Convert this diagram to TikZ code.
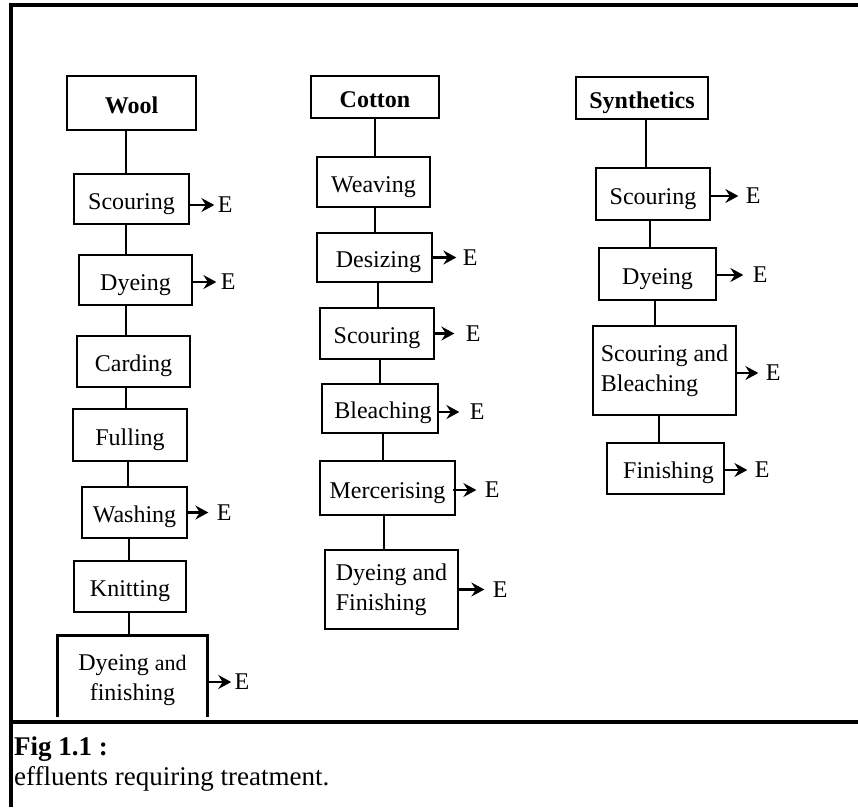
\documentclass[tikz,border=0pt]{standalone}
\usepackage{fontspec}
\setmainfont{Liberation Serif}
\usetikzlibrary{arrows.meta}
\begin{document}
\begin{tikzpicture}[x=1pt,y=-1pt,
  txt/.style={font=\fontsize{24}{30}\selectfont},
  box/.style={draw, line width=2.7pt, inner sep=0pt, txt},
  one/.style={text height=20pt, text depth=0pt},
  hbox/.style={box, one, font=\fontsize{24}{30}\selectfont\bfseries},
  openbox/.style={line width=2.7pt},
  link/.style={line width=2.3pt},
  eff/.style={line width=2.8pt, -{Stealth[length=13pt,width=14pt,inset=4.5pt]}},
  elab/.style={anchor=west, inner sep=0pt, txt},
  frame/.style={line width=3.2pt},
  captext/.style={anchor=base west, inner sep=0pt, font=\fontsize{27}{30}\selectfont}
]
\useasboundingbox (0,0) rectangle (858,807);
% frame
\coordinate (tr) at (858,5);
\coordinate (tl) at (11,5);
\coordinate (bl) at (11,807);
\coordinate (sl) at (11,722);
\coordinate (sr) at (858,722);
\draw[frame] (tr) -- (tl) -- (bl);
\draw[frame] (sl) -- (sr);

% Wool column
\node[hbox, minimum width=129pt, minimum height=54pt] (w0) at (131.5,103) {Wool};
\node[box, one, minimum width=115pt, minimum height=50pt] (w1) at (131.5,199) {Scouring};
\node[box, one, minimum width=113pt, minimum height=50pt] (w2) at (135.5,280) {Dyeing};
\node[box, one, minimum width=113pt, minimum height=51pt] (w3) at (133.5,361.5) {Carding};
\node[box, one, minimum width=114pt, minimum height=52pt] (w4) at (130,435) {Fulling};
\node[box, one, minimum width=105pt, minimum height=51pt] (w5) at (134.5,512.5) {Washing};
\node[box, one, minimum width=112pt, minimum height=51pt] (w6) at (130,586.5) {Knitting};
\node[inner sep=0pt, minimum width=149pt, minimum height=81pt] (w7) at (132.5,676.5) {};
\node[txt, inner sep=0pt, align=center, yshift=-4pt] (w7t) at (w7.center) {Dyeing {\fontsize{22}{30}\selectfont and}\\finishing};
\draw[openbox] (w7.south west) -- (w7.north west) -- (w7.north east) -- (w7.south east);

\draw[link] ([xshift=-5.5pt]w0.south) -- ([xshift=-5.5pt]w0.south |- w1.north);
\draw[link] ([xshift=-5.5pt]w1.south) -- ([xshift=-5.5pt]w1.south |- w2.north);
\draw[link] ([xshift=-9.5pt]w2.south) -- ([xshift=-9.5pt]w2.south |- w3.north);
\draw[link] ([xshift=-7.5pt]w3.south) -- ([xshift=-7.5pt]w3.south |- w4.north);
\draw[link] ([xshift=-2pt]w4.south) -- ([xshift=-2pt]w4.south |- w5.north);
\draw[link] ([xshift=-5.5pt]w5.south) -- ([xshift=-5.5pt]w5.south |- w6.north);
\draw[link] ([xshift=-1pt]w6.south) -- ([xshift=-1pt]w6.south |- w7.north);

\draw[eff] ([yshift=-6pt]w1.east) -- ++(24,0) node[elab, xshift=2pt] (ew1) {E};
\draw[eff] ([yshift=-2pt]w2.east) -- ++(23,0) node[elab, xshift=3pt] (ew2) {E};
\draw[eff] (w5.east) -- ++(20,0) node[elab, xshift=7pt] (ew5) {E};
\draw[eff] ([yshift=-5.5pt]w7.east) -- ++(24,0) node[elab, xshift=2pt] (ew7) {E};

% Cotton column
\node[hbox, minimum width=128pt, minimum height=42pt] (c0) at (375,97) {Cotton};
\node[box, one, minimum width=113pt, minimum height=50pt] (c1) at (373.5,182) {Weaving};
\node[box, one, minimum width=115pt, minimum height=49pt] (c2) at (374.5,257.5) {\hspace*{8pt}Desizing};
\node[box, one, minimum width=114pt, minimum height=51pt] (c3) at (377,333.5) {Scouring};
\node[box, one, minimum width=116pt, minimum height=49pt] (c4) at (380,408.5) {\hspace*{6pt}Bleaching};
\node[box, one, minimum width=135pt, minimum height=54pt] (c5) at (387.5,488) {Mercerising};
\node[box, minimum width=133pt, minimum height=79pt, align=left] (c6) at (391.5,589.5) {Dyeing and\\Finishing};

\draw[link] (c0.south) -- (c0.south |- c1.north);
\draw[link] ([xshift=1.5pt]c1.south) -- ([xshift=1.5pt]c1.south |- c2.north);
\draw[link] ([xshift=3.5pt]c2.south) -- ([xshift=3.5pt]c2.south |- c3.north);
\draw[link] ([xshift=3pt]c3.south) -- ([xshift=3pt]c3.south |- c4.north);
\draw[link] ([xshift=3pt]c4.south) -- ([xshift=3pt]c4.south |- c5.north);
\draw[link] ([xshift=-3.5pt]c5.south) -- ([xshift=-3.5pt]c5.south |- c6.north);

\draw[eff] (c2.east) -- ++(23,0) node[elab, xshift=5pt] (ec2) {E};
\draw[eff] (c3.east) -- ++(19,0) node[elab, xshift=10pt] (ec3) {E};
\draw[eff] ([yshift=-3.5pt]c4.east) -- ++(20,0) node[elab, xshift=9pt] (ec4) {E};
\draw[eff] ([xshift=-3pt,yshift=-2pt]c5.east) -- ++(23,0) node[elab, xshift=7pt] (ec5) {E};
\draw[eff] (c6.east) -- ++(25,0) node[elab, xshift=7pt] (ec6) {E};

% Synthetics column
\node[hbox, minimum width=132pt, minimum height=42pt] (s0) at (642,98) {Synthetics};
\node[box, one, minimum width=114pt, minimum height=52pt] (s1) at (653,194) {Scouring};
\node[box, one, minimum width=117pt, minimum height=52pt] (s2) at (657.5,274) {Dyeing};
\node[box, minimum width=143pt, minimum height=89pt, align=left] (s3) at (664.5,370.5) {Scouring and\\Bleaching};
\node[box, one, minimum width=117pt, minimum height=51pt] (s4) at (665.5,468.5) {\hspace*{6pt}Finishing};

\draw[link] ([xshift=4pt]s0.south) -- ([xshift=4pt]s0.south |- s1.north);
\draw[link] ([xshift=-3pt]s1.south) -- ([xshift=-3pt]s1.south |- s2.north);
\draw[link] ([xshift=-2.5pt]s2.south) -- ([xshift=-2.5pt]s2.south |- s3.north);
\draw[link] ([xshift=-5.5pt]s3.south) -- ([xshift=-5.5pt]s3.south |- s4.north);

\draw[eff] ([yshift=-2pt]s1.east) -- ++(27,0) node[elab, xshift=6pt] (es1) {E};
\draw[eff] ([yshift=-1pt]s2.east) -- ++(26,0) node[elab, xshift=8pt] (es2) {E};
\draw[eff] ([yshift=-2.5pt]s3.east) -- ++(21,0) node[elab, xshift=6pt] (es3) {E};
\draw[eff] ([yshift=-1.5pt]s4.east) -- ++(22,0) node[elab, xshift=6pt] (es4) {E};

% caption
\node[captext, font=\fontsize{27}{30}\selectfont\bfseries] (cap1) at (14,755) {Fig 1.1 :};
\node[captext] (cap2) at (14,785) {effluents requiring treatment.};
\end{tikzpicture}
\end{document}
